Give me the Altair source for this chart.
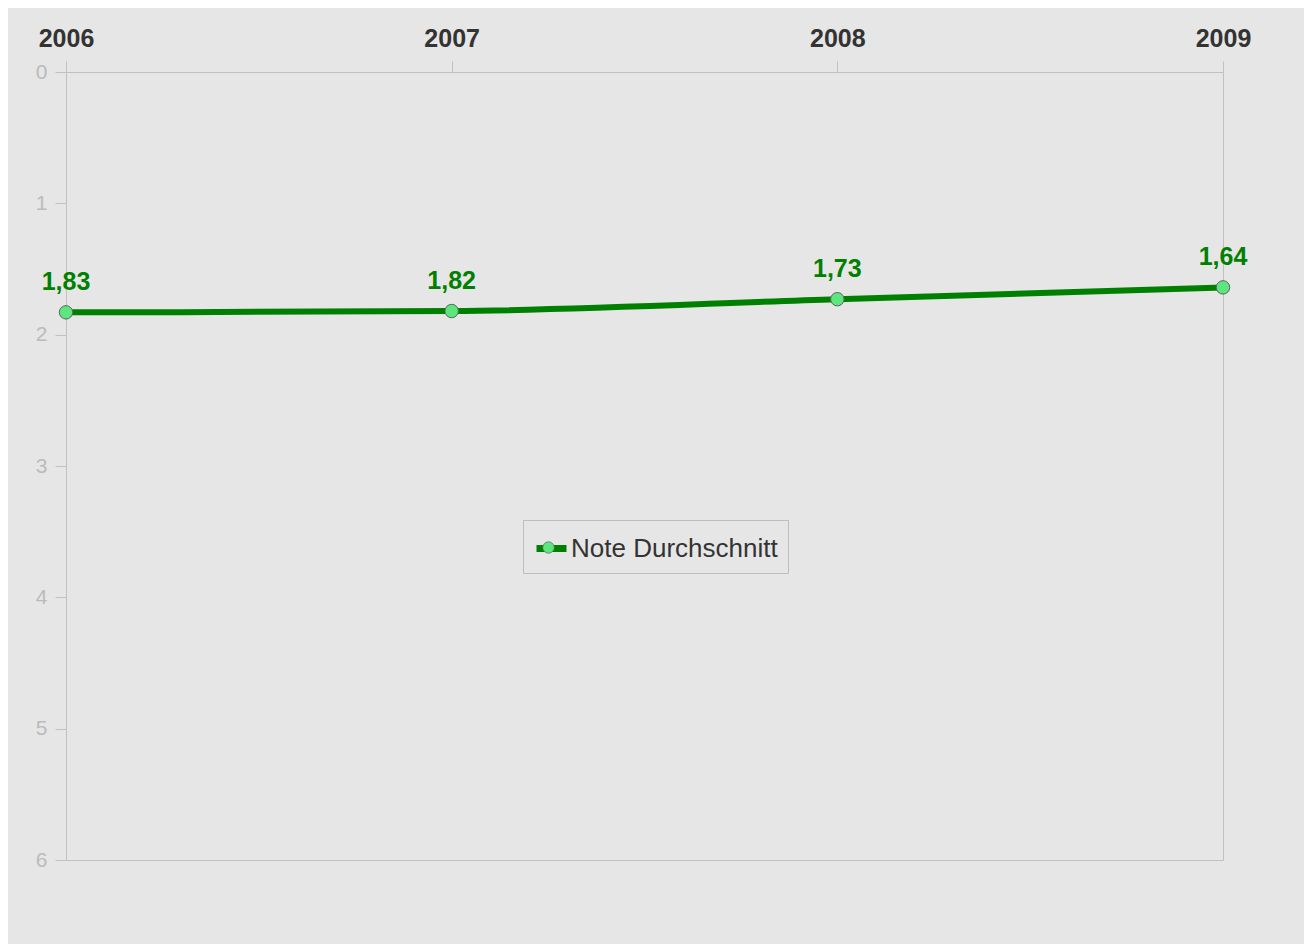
import altair as alt
import pandas as pd

years = ["2006", "2007", "2008", "2009"]
values = [1.83, 1.82, 1.73, 1.64]
series_name = "Note Durchschnitt"
y_ticks = [0, 1, 2, 3, 4, 5, 6]

df = pd.DataFrame({
    "Jahr": years,
    "Note": values,
    "Serie": [series_name] * len(years),
    "SeriePunkt": [series_name] * len(years),
})

FONT = "Liberation Sans"
GRID = "#c0c0c0"
DARK = "#008000"
LIGHT = "#5ce67e"
LX, LY = 457, 448

x = alt.X(
    "Jahr:O",
    scale=alt.Scale(type="point", padding=0),
    axis=alt.Axis(
        orient="top", title=None, labelAngle=0, labelFont=FONT, labelFontSize=25,
        labelFontWeight="bold", labelColor="#333333", tickColor=GRID, tickSize=11,
        domainColor=GRID, labelPadding=10,
    ),
)
y = alt.Y(
    "Note:Q",
    scale=alt.Scale(domain=[0, 6], reverse=True, nice=False, zero=False),
    axis=alt.Axis(
        values=y_ticks, title=None, grid=False, labelFont=FONT, labelFontSize=21,
        labelColor="#bbbbbb", tickColor=GRID, tickSize=11, labelPadding=8,
        domainColor=GRID, format="d",
    ),
)

line_legend = alt.Legend(
    orient="none", legendX=LX, legendY=LY, title=None, labelFont=FONT,
    labelFontSize=26, labelColor="#333333", labelLimit=0, strokeColor="#bdbdbd",
    padding=10, symbolType="stroke", symbolSize=900, symbolStrokeWidth=7,
    labelOffset=1,
)
point_legend = alt.Legend(
    orient="none", legendX=LX + 19, legendY=LY + 21, title=None,
    labelExpr="''", padding=0,
    symbolType="circle", symbolSize=130, symbolStrokeColor="#6a6a6a",
    symbolStrokeWidth=0.8, labelOffset=0,
)

line = alt.Chart(df).mark_line(strokeWidth=6, interpolate="monotone").encode(
    x=x, y=y,
    color=alt.Color("Serie:N", scale=alt.Scale(domain=[series_name], range=[DARK]), legend=line_legend),
)

points = alt.Chart(df).mark_circle(size=180, stroke="#606060", strokeWidth=1, opacity=1).encode(
    x=x, y=y,
    fill=alt.Fill("SeriePunkt:N", scale=alt.Scale(range=[LIGHT]), legend=point_legend),
)

labels = alt.Chart(df).transform_calculate(
    label="replace(format(datum.Note, '.2f'), '.', ',')"
).mark_text(
    dy=-22, baseline="alphabetic", align="center", font=FONT, fontSize=25,
    fontWeight="bold", color=DARK,
).encode(x=x, y=y, text="label:N")

chart = alt.layer(line, points, labels).properties(
    width=1157, height=788,
    autosize=alt.AutoSizeParams(type="none"),
    padding={"left": 58, "top": 64, "right": 81, "bottom": 84},
    background="#e6e6e6",
).configure_view(stroke=GRID, strokeWidth=1)

chart.save("out.html", embed_options={"renderer": "svg", "actions": False})
